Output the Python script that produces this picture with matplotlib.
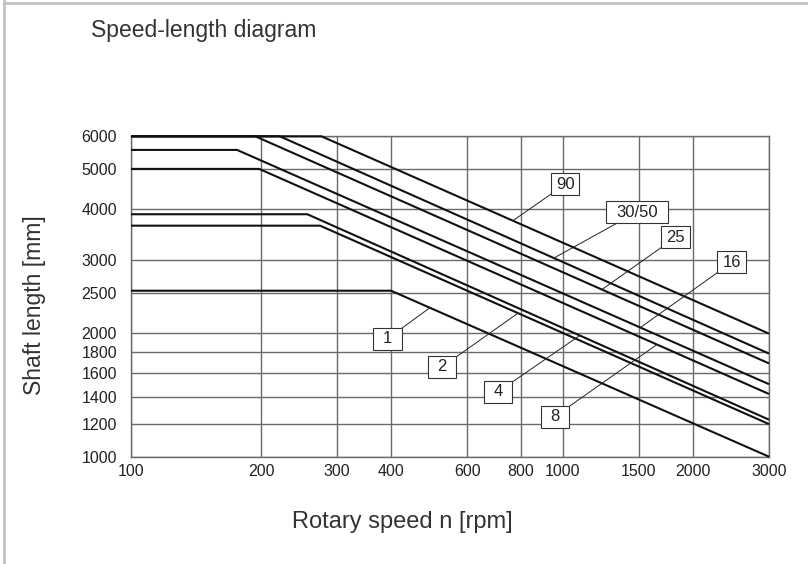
import numpy as np
import matplotlib.pyplot as plt
from matplotlib.patches import Rectangle
from matplotlib.lines import Line2D
from matplotlib.transforms import ScaledTranslation

plt.rcParams['font.family'] = ['Liberation Sans', 'DejaVu Sans']

# shaft size curves: flat length up to the knee speed, then falling to the 3000 rpm value
labels = ['90', '30/50', '25', '16', '8', '4', '2', '1']
flat_len = [6000, 6000, 6000, 5560, 5000, 3880, 3640, 2530]
knee_speed = [276, 221, 194, 176, 198, 256, 274, 400]
end_len = [1990, 1780, 1685, 1500, 1420, 1230, 1200, 1000]
speed_min, speed_max = 100, 3000

x_ticks = [100, 200, 300, 400, 600, 800, 1000, 1500, 2000, 3000]
y_ticks = [1000, 1200, 1400, 1600, 1800, 2000, 2500, 3000, 4000, 5000, 6000]

# label boxes: speed where the leader touches the curve, box centre, box width (px)
leader_speed = [766, 953, 1231, 1511, 1651, 1094, 787, 492]
box_pos = [(1013, 4593), (1483, 3925), (1826, 3413), (2462, 2966),
           (958, 1252), (707, 1436), (525, 1652), (392, 1933)]
box_w = [28, 62, 29, 29, 28, 28, 28, 29]

W, H = 808, 564
fig = plt.figure(figsize=(W / 100, H / 100), dpi=100)
ax = fig.add_axes([131 / W, 1 - 456.7 / H, 638 / W, 320.4 / H])
ax.set_xscale('log')
ax.set_yscale('log')
ax.set_xlim(speed_min, speed_max)
ax.set_ylim(1000, 6000)
ax.set_xticks(x_ticks)
ax.set_xticklabels([str(t) for t in x_ticks])
ax.set_yticks(y_ticks)
ax.set_yticklabels([str(t) for t in y_ticks])
ax.minorticks_off()
ax.tick_params(length=0, labelsize=11.5, labelcolor='#222')
ax.tick_params(axis='x', pad=5)
ax.tick_params(axis='y', pad=10)
ax.grid(True, color='#6a6a6a', lw=1)
for s in ax.spines.values():
    s.set_color('#6a6a6a')
    s.set_linewidth(1)


def curve_at(i, n):
    # length on curve i at speed n (straight line in log-log)
    if n <= knee_speed[i]:
        return flat_len[i]
    k = np.log(end_len[i] / flat_len[i]) / np.log(speed_max / knee_speed[i])
    return flat_len[i] * (n / knee_speed[i]) ** k


for i, lab in enumerate(labels):
    ax.plot([speed_min, knee_speed[i], speed_max],
            [flat_len[i], flat_len[i], end_len[i]],
            color='#111', lw=1.5, solid_capstyle='butt', zorder=3, clip_on=False)

    bx, by = box_pos[i]
    n = leader_speed[i]
    ax.plot([bx, n], [by, curve_at(i, n)], color='#222', lw=0.7, zorder=4)

    trans = fig.dpi_scale_trans + ScaledTranslation(bx, by, ax.transData)
    w = box_w[i] / 100
    ax.add_patch(Rectangle((-w / 2, -0.11), w, 0.22, transform=trans,
                           fc='white', ec='#333', lw=0.8, zorder=5))
    ax.text(bx, by, lab, ha='center', va='center', fontsize=12,
            color='#222', zorder=6)

fig.text(91 / W, 1 - 30 / H, 'Speed-length diagram', ha='left', va='center',
         fontsize=16.5, color='#333')
fig.text(402 / W, 1 - 522 / H, 'Rotary speed n [rpm]', ha='center', va='center',
         fontsize=17, color='#333')
fig.text(35 / W, 1 - 305 / H, 'Shaft length [mm]', ha='center', va='center',
         rotation=90, fontsize=16.5, color='#333')

# light frame on the left and top edges
fig.add_artist(Line2D([4 / W, 4 / W], [0, 1], transform=fig.transFigure,
                      color='#c3c3c7', lw=2))
fig.add_artist(Line2D([4 / W, 1], [1 - 2.5 / H, 1 - 2.5 / H],
                      transform=fig.transFigure, color='#c3c3c7', lw=2))

fig.savefig('out.png', dpi=100)
